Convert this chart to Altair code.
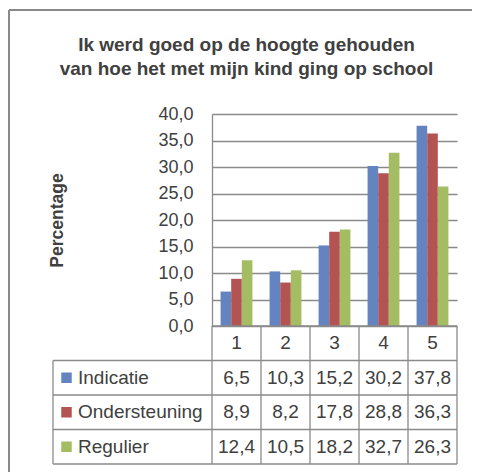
import altair as alt
import pandas as pd

# ---------------- data ----------------
categories = ["1", "2", "3", "4", "5"]
series_names = ["Indicatie", "Ondersteuning", "Regulier"]
indicatie = [6.5, 10.3, 15.2, 30.2, 37.8]
ondersteuning = [8.9, 8.2, 17.8, 28.8, 36.3]
regulier = [12.4, 10.5, 18.2, 32.7, 26.3]
series_colors = ["#6384C0", "#B35452", "#A4BD62"]
y_ticks = [0, 5, 10, 15, 20, 25, 30, 35, 40]
title_lines = ["Ik werd goed op de hoogte gehouden",
               "van hoe het met mijn kind ging op school"]
y_title = "Percentage"

# ---------------- layout (pixels inside the framed area) ----------------
VIEW_W, VIEW_H = 463, 460
PLOT_L, PLOT_R, PLOT_T, PLOT_B = 203, 448, 104, 316
TAB_L, TAB_B = 44, 454
COL_W = (PLOT_R - PLOT_L) / len(categories)
LABEL_UNITS = (PLOT_L - TAB_L) / COL_W
SQ_X = -LABEL_UNITS + 13.5 / COL_W
LABEL_X = -LABEL_UNITS + 25 / COL_W
TEXT_COLOR = "#404040"
LINE_COLOR = "#8a8a8a"
FONT = "Liberation Sans"

def fmt(v):
    return f"{v:.1f}".replace(".", ",")

series_values = [indicatie, ondersteuning, regulier]

bar_rows = []
for s, vals in zip(series_names, series_values):
    for c, v in zip(categories, vals):
        bar_rows.append({"cat": c, "series": s, "value": v})
bars_df = pd.DataFrame(bar_rows)

n_rows = len(series_names) + 1
cell_rows = []
for i, c in enumerate(categories):
    cell_rows.append({"tx": i + 0.5, "ty": 0.5, "text": c})
for r, (s, vals) in enumerate(zip(series_names, series_values)):
    for i, v in enumerate(vals):
        cell_rows.append({"tx": i + 0.5, "ty": r + 1.5, "text": fmt(v)})
cells_df = pd.DataFrame(cell_rows)

label_df = pd.DataFrame([{"tx": LABEL_X, "ty": r + 1.5, "text": s}
                         for r, s in enumerate(series_names)])
square_df = pd.DataFrame([{"tx": SQ_X, "ty": r + 1.5, "series": s}
                          for r, s in enumerate(series_names)])

line_rows = []
line_rows.append({"x": 0, "x2": len(categories), "y": 0, "y2": 0})
for r in range(1, n_rows + 1):
    line_rows.append({"x": -LABEL_UNITS, "x2": len(categories), "y": r, "y2": r})
line_rows.append({"x": -LABEL_UNITS, "x2": -LABEL_UNITS, "y": 1, "y2": n_rows})
for i in range(len(categories) + 1):
    line_rows.append({"x": i, "x2": i, "y": 0, "y2": n_rows})
lines_df = pd.DataFrame(line_rows)

# ---------------- scales ----------------
color_scale = alt.Scale(domain=series_names, range=series_colors)
x_bar = alt.Scale(domain=categories, range=[PLOT_L, PLOT_R],
                  paddingInner=0.35, paddingOuter=0.175)
y_bar = alt.Scale(domain=[0, 40], range=[PLOT_B, PLOT_T], nice=False)
tx = alt.Scale(domain=[-LABEL_UNITS, len(categories)], range=[TAB_L, PLOT_R],
               nice=False, zero=False)
ty = alt.Scale(domain=[0, n_rows], range=[PLOT_B, TAB_B], nice=False, zero=False)

# ---------------- bars ----------------
bars = alt.Chart(bars_df).mark_bar().encode(
    x=alt.X("cat:N", scale=x_bar, axis=None),
    xOffset=alt.XOffset("series:N", sort=series_names,
                        scale=alt.Scale(paddingInner=0, paddingOuter=0)),
    y=alt.Y("value:Q", scale=y_bar, axis=alt.Axis(
        values=y_ticks, offset=-PLOT_L, grid=True,
        gridColor=LINE_COLOR, gridWidth=1.3,
        domainColor=LINE_COLOR, domainWidth=1.3,
        ticks=False, tickSize=0, labelPadding=19,
        labelFontSize=18, labelColor=TEXT_COLOR, labelFont=FONT,
        labelExpr="replace(format(datum.value, '.1f'), '.', ',')",
        title=y_title, titleFont=FONT, titleFontSize=17.5,
        titleFontWeight="bold", titleColor=TEXT_COLOR,
        titleX=-146, titleY=(PLOT_B + PLOT_T) / 2, titleAngle=270,
        titleBaseline="bottom", titleAlign="center")),
    color=alt.Color("series:N", scale=color_scale, legend=None),
)

# ---------------- data table ----------------
lines = alt.Chart(lines_df).mark_rule(color=LINE_COLOR, strokeWidth=1.3).encode(
    x=alt.X("x:Q", scale=tx, axis=None), x2="x2:Q",
    y=alt.Y("y:Q", scale=ty, axis=None), y2="y2:Q",
)
cells = alt.Chart(cells_df).mark_text(
    fontSize=19, font=FONT, color=TEXT_COLOR, align="center", baseline="middle"
).encode(
    x=alt.X("tx:Q", scale=tx, axis=None),
    y=alt.Y("ty:Q", scale=ty, axis=None),
    text="text:N",
)
labels = alt.Chart(label_df).mark_text(
    fontSize=19, font=FONT, color=TEXT_COLOR, align="left", baseline="middle"
).encode(
    x=alt.X("tx:Q", scale=tx, axis=None),
    y=alt.Y("ty:Q", scale=ty, axis=None),
    text="text:N",
)
squares = alt.Chart(square_df).mark_square(size=110, opacity=1, filled=True).encode(
    x=alt.X("tx:Q", scale=tx, axis=None),
    y=alt.Y("ty:Q", scale=ty, axis=None),
    color=alt.Color("series:N", scale=color_scale, legend=None),
)
table = alt.layer(lines, cells, labels, squares)

# ---------------- outer frame (left and top edges of the chart area) ----------------
frame_left = alt.Chart().mark_rule(color=LINE_COLOR, strokeWidth=2).encode(
    x=alt.value(0), y=alt.value(0), y2=alt.value(VIEW_H + 2))
frame_top = alt.Chart().mark_rule(color=LINE_COLOR, strokeWidth=2).encode(
    x=alt.value(0), x2=alt.value(VIEW_W), y=alt.value(0))

chart = alt.layer(bars, table, frame_left, frame_top).resolve_scale(
    x="independent", y="independent"
).properties(
    width=VIEW_W, height=VIEW_H,
    padding={"left": 0, "top": 1, "right": 0, "bottom": 8},
    title=alt.TitleParams(
        text=title_lines, font=FONT, fontSize=19, fontWeight="bold",
        color=TEXT_COLOR, anchor="middle", offset=-70, lineHeight=24, dx=6),
).configure_view(stroke=None)

chart.save("out.html", embed_options={"renderer": "svg", "actions": False})
